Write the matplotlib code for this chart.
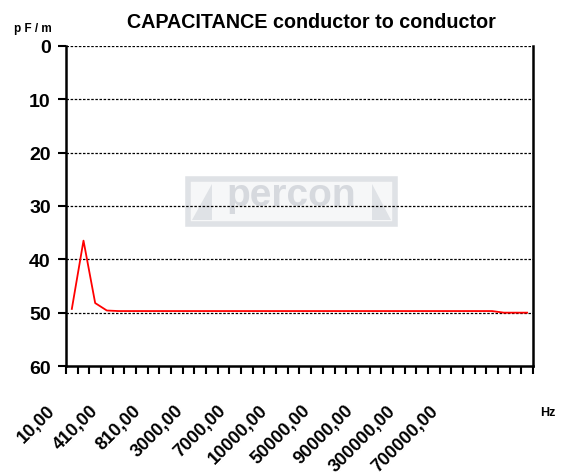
import numpy as np
import matplotlib
matplotlib.use("Agg")
import matplotlib.pyplot as plt
from matplotlib.patches import Rectangle, Polygon

# frequencies (Hz) of the category axis, only every 4th one is labelled
freqs = [10, 110, 210, 310, 410, 510, 610, 710, 810, 910,
         1000, 2000, 3000, 4000, 5000, 6000, 7000, 8000, 9000, 9500,
         10000, 20000, 30000, 40000, 50000, 60000, 70000, 80000, 90000, 100000,
         150000, 200000, 300000, 400000, 500000, 600000, 700000, 800000, 900000, 1000000]
# capacitance conductor to conductor, pF/m
capacitance = [49.3, 36.5, 48.2, 49.6, 49.7, 49.7, 49.7, 49.7, 49.7, 49.7,
               49.7, 49.7, 49.7, 49.7, 49.7, 49.7, 49.7, 49.7, 49.7, 49.7,
               49.7, 49.7, 49.7, 49.7, 49.7, 49.7, 49.7, 49.7, 49.7, 49.7,
               49.7, 49.7, 49.7, 49.7, 49.7, 49.7, 49.7, 50.0, 50.0, 50.0]
y_ticks = [0, 10, 20, 30, 40, 50, 60]

plt.rcParams["font.family"] = ["Liberation Sans", "DejaVu Sans"]
plt.rcParams["font.weight"] = "bold"

fig = plt.figure(figsize=(5.64, 4.77), dpi=100)
ax = fig.add_axes([0.117, 0.2306, 0.828, 0.671])

x = np.arange(len(freqs))
ax.plot(x, capacitance, color="#ff0000", lw=1.3, zorder=3)

ax.set_xlim(-0.5, len(freqs) - 0.5)
ax.set_ylim(60, 0)

# y axis
ax.set_yticks(y_ticks)
ax.set_yticklabels([str(v) for v in y_ticks], fontsize=14, fontweight="bold")
ax.tick_params(axis="y", direction="out", length=6, width=1.5, pad=5)
for v in y_ticks[:-1]:
    ax.axhline(v, color="black", lw=0.9, ls=(0, (2, 1.3)), zorder=1)

# x axis: ticks between categories
ax.set_xticks(np.arange(len(freqs) + 1) - 0.5)
ax.set_xticklabels([])
ax.tick_params(axis="x", direction="out", length=6, width=1.5)

labels = [f"{f:.2f}".replace(".", ",") for f in freqs[::4]]
for k, lab in enumerate(labels):
    ax.text(-0.028 + 0.091 * k, -0.13, lab, transform=ax.transAxes,
            rotation=45, rotation_mode="anchor", ha="right", va="center",
            fontsize=13, fontweight="bold")

ax.spines["top"].set_visible(False)
for s in ["left", "right", "bottom"]:
    ax.spines[s].set_linewidth(1.8)

# watermark logo
wm = "#dfe2e6"
x0, x1, y0, y1 = 0.262, 0.705, 0.445, 0.585
ax.add_patch(Rectangle((x0, y0), x1 - x0, y1 - y0, transform=ax.transAxes,
                       facecolor="#f6f7f8", edgecolor=wm, lw=4, zorder=0))
ax.add_patch(Polygon([(x0 + 0.008, y0 + 0.012), (x0 + 0.05, y0 + 0.012),
                      (x0 + 0.05, y1 - 0.015)],
                     closed=True, transform=ax.transAxes,
                     facecolor=wm, edgecolor="none", zorder=0))
ax.add_patch(Polygon([(x1 - 0.008, y0 + 0.012), (x1 - 0.05, y0 + 0.012),
                      (x1 - 0.05, y1 - 0.015)],
                     closed=True, transform=ax.transAxes,
                     facecolor=wm, edgecolor="none", zorder=0))
ax.text(0.483, 0.535, "percon", transform=ax.transAxes, ha="center", va="center",
        fontsize=28, fontweight="bold", color="#d6d9de", zorder=0)

fig.text(0.226, 0.952, "CAPACITANCE conductor to conductor",
         fontsize=14.2, fontweight="bold", va="center")
fig.text(0.025, 0.940, "p F / m", fontsize=8.5, fontweight="bold", va="center")
fig.text(0.957, 0.134, "Hz", fontsize=9, fontweight="bold", va="center")

fig.savefig("out.png", dpi=100)
